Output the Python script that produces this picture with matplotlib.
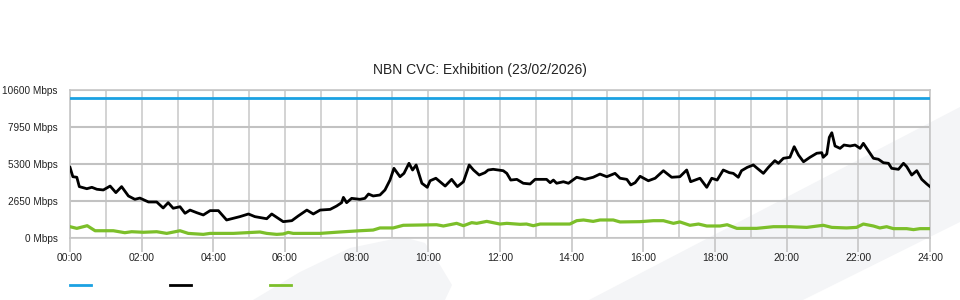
import matplotlib
matplotlib.use("Agg")
import matplotlib.pyplot as plt
from matplotlib.lines import Line2D
from matplotlib.patches import Polygon

plt.rcParams['font.family'] = ['Liberation Sans', 'DejaVu Sans']

title = "NBN CVC: Exhibition (23/02/2026)"

# capacity line (Mbps)
cap_hours = [0, 24]
cap_vals = [10000, 10000]

# traffic (black), hours since midnight -> Mbps
traffic_hours = [0.00, 0.08, 0.19, 0.26, 0.47, 0.61, 0.75, 0.93, 1.12, 1.28, 1.44, 1.63, 1.81, 1.95,
                 2.19, 2.42, 2.60, 2.74, 2.88, 3.07, 3.21, 3.35, 3.54, 3.72, 3.91, 4.14, 4.37, 4.56,
                 4.74, 4.98, 5.16, 5.49, 5.63, 5.77, 5.95, 6.19, 6.37, 6.61, 6.79, 6.98, 7.26, 7.44,
                 7.58, 7.63, 7.72, 7.86, 8.09, 8.23, 8.33, 8.46, 8.65, 8.79, 8.93, 9.04, 9.21, 9.32,
                 9.46, 9.56, 9.66, 9.82, 9.97, 10.05, 10.21, 10.47, 10.65, 10.81, 10.98, 11.14, 11.26,
                 11.42, 11.58, 11.67, 11.81, 12.09, 12.19, 12.30, 12.47, 12.65, 12.84, 12.98, 13.30,
                 13.40, 13.49, 13.58, 13.77, 13.91, 14.14, 14.37, 14.60, 14.79, 14.98, 15.21, 15.35,
                 15.54, 15.65, 15.77, 15.91, 16.14, 16.33, 16.56, 16.79, 17.02, 17.21, 17.32, 17.58,
                 17.77, 17.91, 18.06, 18.23, 18.40, 18.51, 18.65, 18.74, 18.90, 19.07, 19.18, 19.35,
                 19.49, 19.67, 19.77, 19.91, 20.09, 20.21, 20.33, 20.47, 20.65, 20.84, 20.98, 21.02,
                 21.12, 21.19, 21.26, 21.35, 21.49, 21.60, 21.77, 21.91, 22.05, 22.14, 22.28, 22.42,
                 22.56, 22.70, 22.84, 22.93, 23.12, 23.26, 23.35, 23.49, 23.63, 23.77, 23.91, 24.00]
traffic_vals = [5060, 4390, 4350, 3680, 3530, 3630, 3490, 3440, 3720, 3250, 3680, 3010, 2770, 2860,
                2580, 2580, 2150, 2530, 2130, 2240, 1770, 2000, 1810, 1650, 1960, 1960, 1290, 1410,
                1530, 1720, 1530, 1380, 1720, 1480, 1170, 1240, 1580, 2000, 1720, 2000, 2050, 2290,
                2530, 2910, 2530, 2840, 2770, 2840, 3150, 3010, 3080, 3440, 4150, 4990, 4390, 4630,
                5350, 4870, 5230, 3920, 3630, 4100, 4280, 3720, 4200, 3680, 4030, 5230, 4870,
                4510, 4680, 4870, 4920, 4820, 4630, 4150, 4200, 3920, 3870, 4200, 4200,
                3960, 4150, 3920, 4030, 3920, 4350, 4200, 4350, 4580, 4390, 4630, 4280,
                4200, 3800, 3960, 4420, 4100, 4280, 4820, 4350, 4390, 4870, 4030, 4280,
                3630, 4280, 4150, 4870, 4680, 4630, 4350, 4820, 5060, 5230, 4990, 4630,
                5060, 5540, 5350, 5710, 5780, 6540, 5940, 5460, 5780, 6070, 6110, 5780,
                6020, 7210, 7540, 6590, 6420, 6660, 6590, 6660, 6420, 6780, 6250, 5710,
                5640, 5390, 5350, 4990, 4920, 5350, 5110, 4510, 4820, 4200, 3870, 3680]

# green series, hours -> Mbps
green_hours = [0.00, 0.19, 0.48, 0.70, 1.21, 1.53, 1.72, 2.05, 2.42, 2.70, 3.07, 3.30, 3.72, 3.91,
               4.56, 5.30, 5.49, 5.77, 5.95, 6.09, 6.23, 6.98, 7.53, 8.09, 8.46, 8.65, 9.02, 9.30,
               10.23, 10.42, 10.79, 10.98, 11.21, 11.35, 11.63, 12.00, 12.19, 12.56, 12.74, 12.93,
               13.12, 13.95, 14.14, 14.33, 14.60, 14.79, 15.16, 15.35, 15.91, 16.28, 16.56, 16.84,
               17.02, 17.30, 17.54, 17.77, 18.14, 18.34, 18.61, 19.16, 19.63, 20.09, 20.56, 21.02,
               21.26, 21.67, 21.95, 22.14, 22.42, 22.60, 22.79, 22.98, 23.35, 23.54, 23.72, 24.00]
green_vals = [810, 690, 880, 520, 520, 380, 450, 410, 450, 330, 520, 330, 260, 330,
              330, 430, 330, 260, 290, 400, 330, 330, 430, 520, 570, 720, 720, 910,
              950, 860, 1050, 880, 1100, 1050, 1190, 1000, 1050, 980, 1000, 880,
              1000, 1000, 1240, 1290, 1190, 1290, 1290, 1150, 1170, 1240, 1240, 1050,
              1150, 910, 1000, 860, 860, 950, 690, 690, 810, 810, 760, 910,
              760, 720, 760, 1000, 860, 720, 810, 670, 670, 600, 670, 670]

y_ticks = [0, 2650, 5300, 7950, 10600]
x_ticks = list(range(0, 25, 2))
x_labels = ["%02d:00" % h for h in x_ticks]

fig = plt.figure(figsize=(9.6, 3.0), dpi=100)

# faint background watermark shapes (behind everything)
wm = "#f4f5f7"
fig.patches.append(Polygon([(253/960, 0), (300/960, 28/300), (350/960, 52/300), (403/960, 63/300),
                            (425/960, 57/300), (440/960, 35/300), (452/960, 15/300), (445/960, 0)],
                           closed=True, transform=fig.transFigure, facecolor=wm, edgecolor="none",
                           zorder=-5))
fig.patches.append(Polygon([(589/960, 0), (1, 193/300), (1, 78/300), (803/960, 0)],
                           closed=True, transform=fig.transFigure, facecolor=wm, edgecolor="none",
                           zorder=-5))

ax = fig.add_axes([70/960, 62/300, 860/960, 148/300])
ax.set_facecolor("none")
ax.set_zorder(1)

ax.plot(cap_hours, cap_vals, color="#1ba1e2", lw=2, zorder=3)
ax.plot(traffic_hours, traffic_vals, color="black", lw=2, zorder=4)
ax.plot(green_hours, green_vals, color="#7cbf2a", lw=2.3, zorder=3)

ax.set_xlim(0, 24)
ax.set_ylim(0, 10600)
ax.set_yticks(y_ticks)
ax.set_yticklabels(["%d Mbps" % v for v in y_ticks])
ax.set_xticks(x_ticks)
ax.set_xticklabels(x_labels)
ax.set_xticks(range(0, 25), minor=True)

ax.grid(True, axis="y", color="#c2c2c2", lw=1.5)
ax.grid(True, axis="x", which="both", color="#cccccc", lw=1.2)
ax.set_axisbelow(True)
for s in ax.spines.values():
    s.set_color("#c6c6c6")
    s.set_linewidth(1.2)

ax.tick_params(axis="y", length=0, pad=9, labelsize=7.2, labelcolor="#222222")
ax.tick_params(axis="x", which="major", length=10, width=1.2, color="#c6c6c6",
               pad=1, labelsize=7.5, labelcolor="#222222")
ax.tick_params(axis="x", which="minor", length=0)

fig.text(0.5, 1 - 70/300, title, ha="center", va="center", fontsize=10, color="#222222")

# legend keys (no labels)
for x0, c in [(70, "#1ba1e2"), (170, "black"), (270, "#7cbf2a")]:
    fig.add_artist(Line2D([x0/960, (x0 + 21)/960], [1 - 285/300, 1 - 285/300],
                          color=c, lw=2, transform=fig.transFigure))

fig.savefig("out.png", dpi=100)
